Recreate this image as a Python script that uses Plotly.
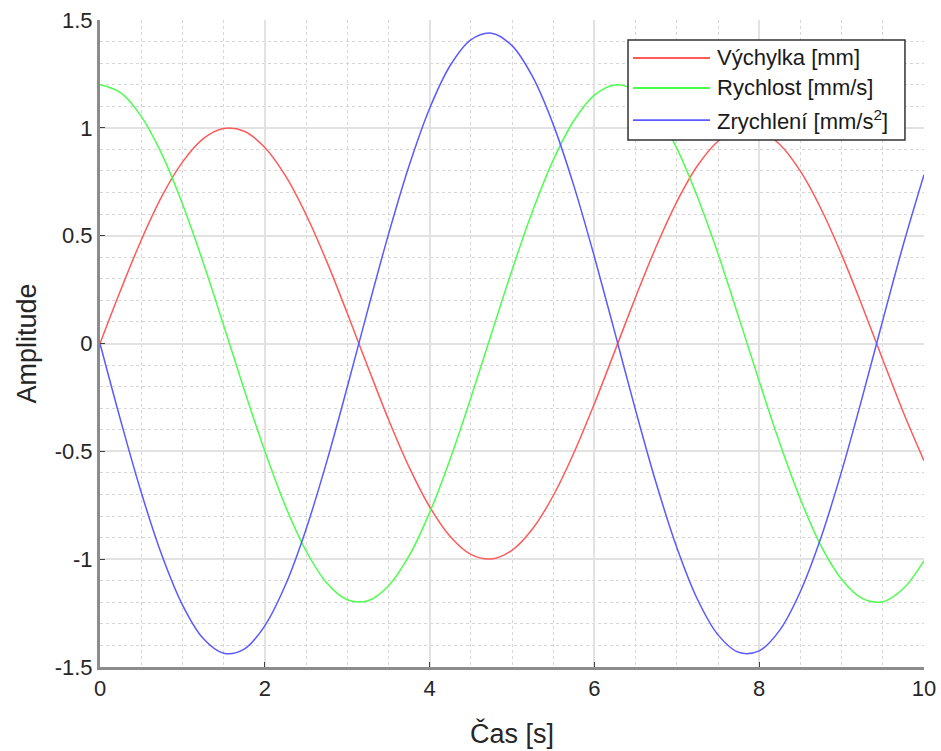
import plotly.graph_objects as go

# time samples [s]
t = [0, 0.25, 0.5, 0.75, 1, 1.25, 1.5, 1.75, 2, 2.25, 2.5, 2.75, 3, 3.25, 3.5, 3.75,
     4, 4.25, 4.5, 4.75, 5, 5.25, 5.5, 5.75, 6, 6.25, 6.5, 6.75, 7, 7.25, 7.5, 7.75,
     8, 8.25, 8.5, 8.75, 9, 9.25, 9.5, 9.75, 10]

vychylka = [0.000, 0.247, 0.479, 0.682, 0.841, 0.949, 0.997, 0.984, 0.909, 0.778, 0.598,
            0.382, 0.141, -0.108, -0.351, -0.572, -0.757, -0.895, -0.978, -0.999, -0.959,
            -0.859, -0.706, -0.508, -0.279, -0.033, 0.215, 0.450, 0.657, 0.824, 0.938,
            0.995, 0.989, 0.923, 0.799, 0.625, 0.412, 0.174, -0.075, -0.320, -0.544]

rychlost = [1.200, 1.163, 1.053, 0.878, 0.648, 0.378, 0.085, -0.214, -0.499, -0.754, -0.961,
            -1.109, -1.188, -1.193, -1.124, -0.985, -0.784, -0.535, -0.253, 0.045, 0.340,
            0.614, 0.850, 1.033, 1.152, 1.199, 1.172, 1.072, 0.905, 0.680, 0.416, 0.124,
            -0.175, -0.463, -0.722, -0.938, -1.093, -1.182, -1.197, -1.136, -1.007]

zrychleni = [0.000, -0.356, -0.690, -0.981, -1.212, -1.367, -1.436, -1.417, -1.309, -1.120,
             -0.862, -0.550, -0.203, 0.156, 0.505, 0.823, 1.090, 1.289, 1.408, 1.439, 1.381,
             1.237, 1.016, 0.732, 0.402, 0.048, -0.310, -0.648, -0.946, -1.186, -1.351,
             -1.432, -1.425, -1.329, -1.150, -0.900, -0.593, -0.251, 0.108, 0.460, 0.783]

series_names = ["Výchylka [mm]", "Rychlost [mm/s]", "Zrychlení [mm/s<sup>2</sup>]"]
series_colors = ["#ff5a5a", "#4dff4d", "#5a5aff"]

x_ticks = [0, 2, 4, 6, 8, 10]
x_ticktext = ["0", "2", "4", "6", "8", "10"]
y_ticks = [-1.5, -1, -0.5, 0, 0.5, 1, 1.5]
y_ticktext = ["-1.5", "-1", "-0.5", "0", "0.5", "1", "1.5"]

FONT = "Liberation Sans, Arial, sans-serif"

fig = go.Figure()
for ys, name, col in zip([vychylka, rychlost, zrychleni], series_names, series_colors):
    fig.add_trace(go.Scatter(x=t, y=ys, mode="lines", name=name, showlegend=False,
                             line=dict(color=col, width=1.5, shape="spline", smoothing=1.0)))

axis_common = dict(
    showline=True, linecolor="#8c8c8c", linewidth=3, mirror=False,
    ticks="inside", ticklen=5, tickcolor="#404040", tickwidth=1,
    showgrid=True, gridcolor="#e2e2e2", gridwidth=1.5,
    zeroline=False, automargin=False,
    tickfont=dict(family=FONT, size=22, color="#262626"),
    title_font=dict(family=FONT, size=27, color="#262626"),
)

fig.update_xaxes(range=[0, 10], tickvals=x_ticks, ticktext=x_ticktext,
                 title_text="Čas [s]", title_standoff=24,
                 minor=dict(dtick=0.5, showgrid=True, gridcolor="#d6d6d6", griddash="dot", gridwidth=1),
                 **axis_common)
fig.update_yaxes(range=[-1.5, 1.5], tickvals=y_ticks, ticktext=y_ticktext,
                 title_text="Amplitude", title_standoff=11,
                 minor=dict(dtick=0.1, showgrid=True, gridcolor="#d6d6d6", griddash="dot", gridwidth=1),
                 **axis_common)

# custom legend (MATLAB-style, long line samples) in paper coordinates
box = dict(x0=0.6408, x1=0.9769, y0=0.8145, y1=0.9691)
row_y = [0.9413, 0.8949, 0.8454]
line_x = (0.6468, 0.7403)
text_x = 0.7464

shapes = [dict(type="rect", xref="paper", yref="paper", layer="above",
               fillcolor="white", line=dict(color="#333333", width=1.5), **box)]
annotations = []
for yy, name, col in zip(row_y, series_names, series_colors):
    shapes.append(dict(type="line", xref="paper", yref="paper", layer="above",
                       x0=line_x[0], x1=line_x[1], y0=yy, y1=yy,
                       line=dict(color=col, width=1.8)))
    annotations.append(dict(xref="paper", yref="paper", x=text_x, y=yy,
                            xanchor="left", yanchor="middle", showarrow=False,
                            text=name, font=dict(family=FONT, size=22, color="#1a1a1a")))

fig.update_layout(
    width=941, height=751,
    margin=dict(l=100, r=17, t=20, b=84),
    plot_bgcolor="white", paper_bgcolor="white",
    font=dict(family=FONT, color="#262626"),
    shapes=shapes, annotations=annotations,
    showlegend=False,
)

fig.write_html("out.html", config={"displayModeBar": False},
               post_script="document.body.style.margin='0';document.body.style.overflow='hidden';")
